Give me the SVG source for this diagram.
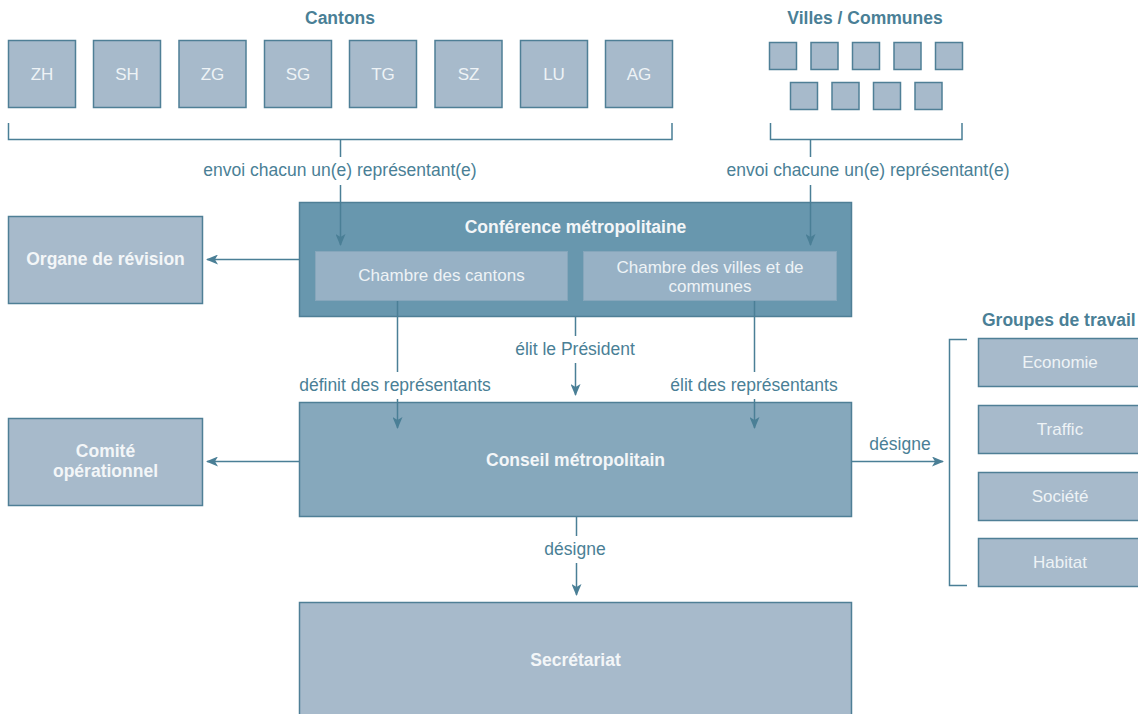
<svg xmlns="http://www.w3.org/2000/svg" width="1138" height="714" viewBox="0 0 1138 714">
  <style>
    .box { fill: #a7bacb; stroke: #4f7f96; stroke-width: 1.5; }
    .conf { fill: #6897ae; stroke: #4f7f96; stroke-width: 1.5; }
    .chamber { fill: #97b1c5; stroke: #86a6bb; stroke-width: 1; }
    .conseil { fill: #86a8bc; stroke: #4f7f96; stroke-width: 1.5; }
    .lbl { font-family: "Liberation Sans", Arial, sans-serif; font-size: 17.5px; fill: #4a7f96; text-anchor: middle; }
    .head { font-family: "Liberation Sans", Arial, sans-serif; font-size: 17.5px; font-weight: bold; fill: #4a7f96; text-anchor: middle; }
    .in { font-family: "Liberation Sans", Arial, sans-serif; font-size: 17px; fill: #eef3f6; text-anchor: middle; }
    .inb { font-family: "Liberation Sans", Arial, sans-serif; font-size: 17.5px; font-weight: bold; fill: #f3f6f8; text-anchor: middle; }
    .line { fill: none; stroke: #4a7f96; stroke-width: 1.5; }
  </style>
  <defs>
    <marker id="arrow" viewBox="0 0 12 10" refX="11" refY="5" markerWidth="12" markerHeight="10" markerUnits="userSpaceOnUse" orient="auto">
      <path d="M0,0 L12,5 L0,10 L3,5 z" fill="#4a7f96"/>
    </marker>
  </defs>

  <!-- headings -->
  <text class="head" x="340" y="24">Cantons</text>
  <text class="head" x="865" y="24">Villes / Communes</text>
  <text class="head" x="982" y="326" style="text-anchor:start">Groupes de travail</text>

  <!-- cantons -->
  <g id="canton-ZH"><rect class="box" x="8.5" y="40.5" width="67" height="67"/><text class="in" x="42" y="80">ZH</text></g>
  <g id="canton-SH"><rect class="box" x="93.5" y="40.5" width="67" height="67"/><text class="in" x="127" y="80">SH</text></g>
  <g id="canton-ZG"><rect class="box" x="179" y="40.5" width="67" height="67"/><text class="in" x="212.5" y="80">ZG</text></g>
  <g id="canton-SG"><rect class="box" x="264.5" y="40.5" width="67" height="67"/><text class="in" x="298" y="80">SG</text></g>
  <g id="canton-TG"><rect class="box" x="349.5" y="40.5" width="67" height="67"/><text class="in" x="383" y="80">TG</text></g>
  <g id="canton-SZ"><rect class="box" x="435" y="40.5" width="67" height="67"/><text class="in" x="468.5" y="80">SZ</text></g>
  <g id="canton-LU"><rect class="box" x="520.5" y="40.5" width="67" height="67"/><text class="in" x="554" y="80">LU</text></g>
  <g id="canton-AG"><rect class="box" x="605.5" y="40.5" width="67" height="67"/><text class="in" x="639" y="80">AG</text></g>

  <!-- villes / communes -->
  <g id="communes">
    <rect class="box" x="769.5" y="42.5" width="27" height="27"/>
    <rect class="box" x="811" y="42.5" width="27" height="27"/>
    <rect class="box" x="852.5" y="42.5" width="27" height="27"/>
    <rect class="box" x="894" y="42.5" width="27" height="27"/>
    <rect class="box" x="935.5" y="42.5" width="27" height="27"/>
    <rect class="box" x="790.5" y="82.5" width="27" height="27"/>
    <rect class="box" x="832" y="82.5" width="27" height="27"/>
    <rect class="box" x="873.5" y="82.5" width="27" height="27"/>
    <rect class="box" x="915" y="82.5" width="27" height="27"/>
  </g>

  <!-- conférence métropolitaine -->
  <g id="conference">
    <rect class="conf" x="299.5" y="202.5" width="552" height="114"/>
    <text class="inb" x="575.5" y="233">Conférence métropolitaine</text>
  </g>
  <g id="chambre-cantons">
    <rect class="chamber" x="315.5" y="251.5" width="252" height="49"/>
    <text class="in" x="441.5" y="281">Chambre des cantons</text>
  </g>
  <g id="chambre-villes">
    <rect class="chamber" x="583.5" y="251.5" width="253" height="49"/>
    <text class="in" x="710" y="273">Chambre des villes et de</text>
    <text class="in" x="710" y="292">communes</text>
  </g>

  <g id="organe-revision">
    <rect class="box" x="8.5" y="216.5" width="194" height="87"/>
    <text class="inb" x="105.5" y="265">Organe de révision</text>
  </g>

  <g id="conseil">
    <rect class="conseil" x="299.5" y="402.5" width="552" height="114"/>
    <text class="inb" x="575.5" y="466">Conseil métropolitain</text>
  </g>

  <g id="comite">
    <rect class="box" x="8.5" y="418.5" width="194" height="87"/>
    <text class="inb" x="105.5" y="457">Comité</text>
    <text class="inb" x="105.5" y="477">opérationnel</text>
  </g>

  <g id="secretariat">
    <rect class="box" x="299.5" y="602.5" width="552" height="120"/>
    <text class="inb" x="575.5" y="666">Secrétariat</text>
  </g>

  <g id="groupe-economie"><rect class="box" x="978.5" y="338.5" width="170" height="48"/><text class="in" x="1060" y="368">Economie</text></g>
  <g id="groupe-traffic"><rect class="box" x="978.5" y="405.5" width="170" height="48"/><text class="in" x="1060" y="435">Traffic</text></g>
  <g id="groupe-societe"><rect class="box" x="978.5" y="472.5" width="170" height="48"/><text class="in" x="1060" y="502">Société</text></g>
  <g id="groupe-habitat"><rect class="box" x="978.5" y="538.5" width="170" height="48"/><text class="in" x="1060" y="568">Habitat</text></g>

  <!-- connectors -->
  <g id="connectors">
    <!-- cantons bracket -->
    <path class="line" d="M8.5,123 V139.5 H672 V123"/>
    <path class="line" d="M340.5,139.5 V157"/>
    <text class="lbl" x="340" y="176">envoi chacun un(e) représentant(e)</text>
    <path class="line" d="M340.5,185 V245" marker-end="url(#arrow)"/>

    <!-- communes bracket -->
    <path class="line" d="M770.5,123 V139.5 H962 V123"/>
    <path class="line" d="M810.5,139.5 V157"/>
    <text class="lbl" x="868" y="176">envoi chacune un(e) représentant(e)</text>
    <path class="line" d="M810.5,185 V245" marker-end="url(#arrow)"/>

    <!-- conférence to organe de révision -->
    <path class="line" d="M299,259.5 H207" marker-end="url(#arrow)"/>

    <!-- chambres to conseil -->
    <path class="line" d="M397.5,301 V372"/>
    <text class="lbl" x="395" y="391">définit des représentants</text>
    <path class="line" d="M397.5,399 V428" marker-end="url(#arrow)"/>

    <path class="line" d="M575.5,317 V336"/>
    <text class="lbl" x="575" y="355">élit le Président</text>
    <path class="line" d="M575.5,363 V395" marker-end="url(#arrow)"/>

    <path class="line" d="M754.5,301 V372"/>
    <text class="lbl" x="754" y="391">élit des représentants</text>
    <path class="line" d="M754.5,399 V428" marker-end="url(#arrow)"/>

    <!-- conseil to comité -->
    <path class="line" d="M299,461.5 H207" marker-end="url(#arrow)"/>

    <!-- conseil to groupes de travail -->
    <path class="line" d="M852,461.5 H943" marker-end="url(#arrow)"/>
    <text class="lbl" x="900" y="450">désigne</text>
    <path class="line" d="M967,339.5 H949.5 V585.5 H967"/>

    <!-- conseil to secrétariat -->
    <path class="line" d="M576.5,517 V536"/>
    <text class="lbl" x="575" y="555">désigne</text>
    <path class="line" d="M576.5,563 V595" marker-end="url(#arrow)"/>
  </g>
</svg>
